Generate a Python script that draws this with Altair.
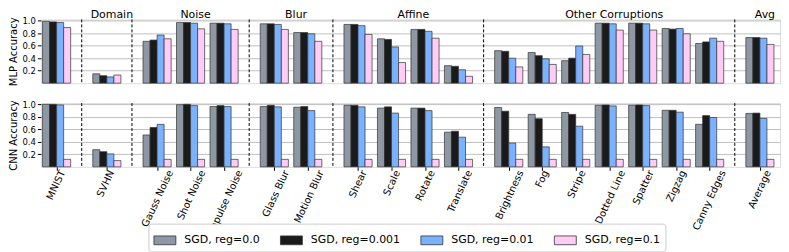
import altair as alt
import pandas as pd

categories = ["MNIST", "SVHN", "Gauss Noise", "Shot Noise", "Impulse Noise",
              "Glass Blur", "Motion Blur", "Shear", "Scale", "Rotate", "Translate",
              "Brightness", "Fog", "Stripe", "Dotted Line", "Spatter", "Zigzag",
              "Canny Edges", "Average"]
group_of = ["", "Domain", "Noise", "Noise", "Noise", "Blur", "Blur",
            "Affine", "Affine", "Affine", "Affine",
            "Other Corruptions", "Other Corruptions", "Other Corruptions",
            "Other Corruptions", "Other Corruptions", "Other Corruptions",
            "Other Corruptions", "Avg"]
series = ["SGD, reg=0.0", "SGD, reg=0.001", "SGD, reg=0.01", "SGD, reg=0.1"]
colors = ["#8e97a4", "#1a1a1a", "#7ab2ff", "#ffccf5"]

mlp_reg0 = [0.99, 0.15, 0.67, 0.97, 0.96, 0.95, 0.81, 0.94, 0.71, 0.86, 0.28,
            0.52, 0.49, 0.36, 0.96, 0.96, 0.875, 0.635, 0.73]
mlp_reg001 = [0.98, 0.12, 0.69, 0.97, 0.96, 0.95, 0.81, 0.94, 0.70, 0.86, 0.27,
              0.51, 0.44, 0.40, 0.96, 0.96, 0.865, 0.66, 0.73]
mlp_reg01 = [0.97, 0.10, 0.77, 0.96, 0.95, 0.94, 0.79, 0.92, 0.58, 0.83, 0.215,
             0.40, 0.39, 0.595, 0.95, 0.95, 0.875, 0.72, 0.72]
mlp_reg1 = [0.89, 0.13, 0.71, 0.87, 0.86, 0.86, 0.67, 0.78, 0.33, 0.72, 0.11,
            0.26, 0.30, 0.46, 0.85, 0.85, 0.79, 0.67, 0.62]

cnn_reg0 = [1.0, 0.275, 0.51, 0.995, 0.965, 0.965, 0.954, 0.985, 0.94, 0.94, 0.555,
            0.95, 0.84, 0.87, 0.985, 0.985, 0.905, 0.68, 0.855]
cnn_reg001 = [1.0, 0.243, 0.63, 1.0, 0.98, 0.985, 0.965, 0.985, 0.96, 0.94, 0.57,
              0.89, 0.77, 0.84, 0.99, 0.99, 0.905, 0.82, 0.86]
cnn_reg01 = [0.99, 0.207, 0.68, 0.98, 0.965, 0.96, 0.90, 0.96, 0.86, 0.90, 0.475,
             0.38, 0.32, 0.65, 0.975, 0.98, 0.875, 0.79, 0.775]
cnn_reg1 = [0.12, 0.10, 0.12, 0.12, 0.12, 0.12, 0.12, 0.12, 0.12, 0.12, 0.12,
            0.12, 0.12, 0.12, 0.12, 0.12, 0.12, 0.12, 0.12]

# ---- layout of category slots (1 within group, 1.5 between groups)
slots = []
prev = None
pos = 0.0
for g in group_of:
    if prev is None:
        pos = 0.0
    elif g == prev:
        pos += 1.0
    else:
        pos += 1.5
    slots.append(pos)
    prev = g
separators = [(slots[i] + slots[i + 1]) / 2 for i in range(len(slots) - 1)
              if group_of[i] != group_of[i + 1]]
group_names = [g for i, g in enumerate(group_of) if g and (i == 0 or group_of[i - 1] != g)]
group_pos = [sum(s for s, gg in zip(slots, group_of) if gg == g) /
             group_of.count(g) + 0.15 for g in group_names]

BW = 0.21
W = 742
H = 64
XDOM = [-0.47, 21.6]
PX_PER_SLOT = W / (XDOM[1] - XDOM[0])
FONT = "DejaVu Sans"


def bars_df(vals):
    rows = []
    for si, (s, v) in enumerate(zip(series, vals)):
        for ci, c in enumerate(categories):
            x0 = slots[ci] + (si - 2) * BW
            rows.append({"cat": c, "series": s, "value": v[ci],
                         "x0": x0, "x1": x0 + BW})
    return pd.DataFrame(rows)


mlp_df = bars_df([mlp_reg0, mlp_reg001, mlp_reg01, mlp_reg1])
cnn_df = bars_df([cnn_reg0, cnn_reg001, cnn_reg01, cnn_reg1])
sep_df = pd.DataFrame({"sx": separators})
grp_df = pd.DataFrame({"g": group_names, "gx": group_pos})
lab_df = pd.DataFrame({"cat": categories, "slot": slots})

xscale = alt.Scale(domain=XDOM, nice=False, zero=False)
yscale = alt.Scale(domain=[0, 1.02], nice=False)
color = alt.Color(
    "series:N",
    scale=alt.Scale(domain=series, range=colors),
    legend=alt.Legend(
        title=None, orient="none", direction="horizontal",
        legendX=108, legendY=205,
        symbolType="M-1,-0.4L1,-0.4L1,0.4L-1,0.4Z", symbolSize=484,
        symbolStrokeColor="#333333", symbolStrokeWidth=0.8,
        labelFontSize=11, labelFont=FONT, labelColor="black",
        labelOffset=8, columnPadding=18,
        padding=5, fillColor="white", strokeColor="#cccccc", cornerRadius=3,
    ),
)


def yaxis(title):
    return alt.Axis(title=title, values=[0.2, 0.4, 0.6, 0.8, 1.0], format=".1f",
                    grid=True, gridColor="#b0b0b0", gridWidth=0.8,
                    domain=False, tickSize=3.5, tickColor="black",
                    labelFontSize=8.5, labelColor="black", labelPadding=2,
                    titleFontSize=10, titleFontWeight="normal", titleColor="black",
                    titlePadding=3)


def xaxis(bottom):
    if bottom:
        return alt.Axis(values=slots, labels=False, title=None, grid=False,
                        domain=False, tickSize=3.5, tickColor="black")
    return None


def panel(df, title, bottom):
    bars = alt.Chart(df).mark_bar(stroke="#333333", strokeWidth=0.7).encode(
        x=alt.X("x0:Q", scale=xscale, axis=xaxis(bottom)),
        x2="x1:Q",
        y=alt.Y("value:Q", scale=yscale, axis=yaxis(title)),
        y2=alt.datum(0),
        color=color,
    )
    seps = alt.Chart(sep_df).mark_rule(color="black", strokeDash=[3, 2],
                                       strokeWidth=1).encode(
        x=alt.X("sx:Q", scale=xscale, axis=xaxis(bottom)))
    layers = [seps, bars]
    if not bottom:
        txt = alt.Chart(grp_df).mark_text(fontSize=11, font=FONT, color="black",
                                          baseline="alphabetic", align="center").encode(
            x=alt.X("gx:Q", scale=xscale, axis=xaxis(bottom)),
            y=alt.value(-1), text="g:N")
        layers.append(txt)
    else:
        txt = alt.Chart(lab_df).transform_calculate(
            lx=f"datum.slot + (length(datum.cat) * 5.8 * 0.423 - 9.0) / 2 / {PX_PER_SLOT}"
        ).mark_text(fontSize=10, font=FONT, color="black", angle=295,
                    align="right", baseline="top").encode(
            x=alt.X("lx:Q", scale=xscale, axis=xaxis(bottom)),
            y=alt.value(H + 2), text="cat:N")
        layers.append(txt)
    return alt.layer(*layers).properties(width=W, height=H)


chart = alt.vconcat(
    panel(mlp_df, "MLP Accuracy", False),
    panel(cnn_df, "CNN Accuracy", True),
    spacing=12,
).resolve_scale(color="shared").configure_view(
    stroke="black", strokeWidth=1
).configure(font=FONT, padding=0)

chart.save("out.html", embed_options={"renderer": "svg", "actions": False})
